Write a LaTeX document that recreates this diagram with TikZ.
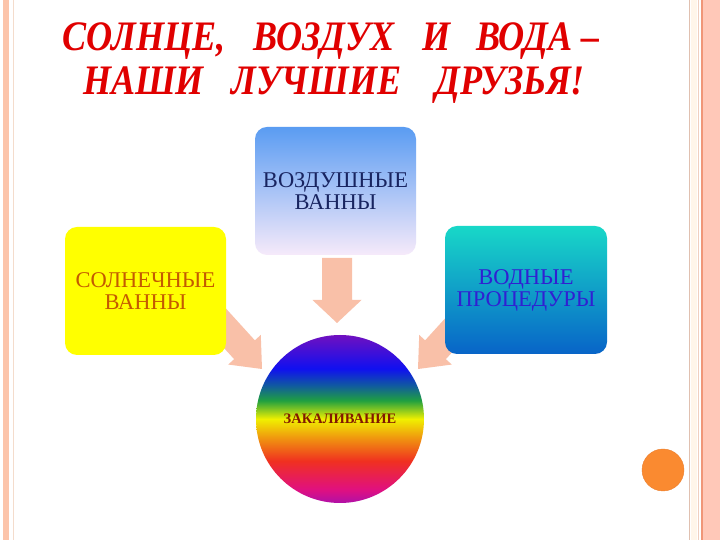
\documentclass[tikz,border=0pt]{standalone}
\usepackage{fontspec}
\setmainfont{Liberation Serif}
\newfontfamily\titlefont[FakeStretch=0.86]{Liberation Serif}
\usetikzlibrary{calc,shapes.geometric}
\definecolor{salmon}{HTML}{FCC4AA}
\definecolor{arrowc}{HTML}{F9C0A8}
\definecolor{titlered}{HTML}{E00000}
\definecolor{rbA}{HTML}{B010A8}
\definecolor{rbB}{HTML}{E01080}
\definecolor{rbC}{HTML}{F03020}
\definecolor{rbD}{HTML}{F09010}
\definecolor{rbE}{HTML}{F0F000}
\definecolor{rbF}{HTML}{20A040}
\definecolor{rbG}{HTML}{105AA0}
\definecolor{rbH}{HTML}{1010F0}
\definecolor{rbI}{HTML}{7010C0}
\pgfdeclareverticalshading{rainbow}{100bp}{color(0bp)=(rbA); color(25bp)=(rbA); color(29bp)=(rbB); color(37.5bp)=(rbC); color(44bp)=(rbD); color(50bp)=(rbE); color(55.5bp)=(rbF); color(60bp)=(rbG); color(65bp)=(rbH); color(75bp)=(rbI); color(100bp)=(rbI)}
\tikzset{
  boxnode/.style={rounded corners=12pt, minimum width=161pt, minimum height=128pt, inner sep=0pt, align=center, font=\fontsize{22.5}{22}\selectfont},
  titletext/.style={text=titlered, font=\titlefont\bfseries\itshape\fontsize{42}{44}\selectfont, inner sep=0pt, anchor=base},
}
\newcommand{\blockarrow}[5]{% tail, tip, shaft half, head half, head length
  \fill[arrowc] ($(#1)!#3!90:(#2)$) -- ($($(#2)!#5!(#1)$)!#3!-90:(#1)$) -- ($($(#2)!#5!(#1)$)!#4!-90:(#1)$) -- (#2) -- ($($(#2)!#5!(#1)$)!#4!90:(#1)$) -- ($($(#2)!#5!(#1)$)!#3!90:(#1)$) -- ($(#1)!#3!-90:(#2)$) -- cycle;}
\begin{document}
\begin{tikzpicture}[x=1pt,y=1pt]
\useasboundingbox (0,0) rectangle (720,540);
\fill[white] (0,0) rectangle (720,540);
% borders
\fill[salmon] (3,0) rectangle (9,540);
\draw[color={rgb,255:red,244;green,220;blue,204}, line width=1pt] (13.5,0) -- (13.5,540);
\draw[color={rgb,255:red,224;green,192;blue,176}, line width=1.5pt] (689.5,0) -- (689.5,540);
\fill[color={rgb,255:red,255;green,246;blue,234}] (691,0) rectangle (697,540);
\draw[color={rgb,255:red,240;green,208;blue,192}, line width=1pt] (698,0) -- (698,540);
\fill[color={rgb,255:red,255;green,200;blue,184}] (703,0) rectangle (720,540);
\draw[color={rgb,255:red,240;green,150;blue,120}, line width=1.5pt] (701.8,0) -- (701.8,540);
% title
\node[titletext] (t1) at (331,489) {СОЛНЦЕ,\hspace{0.45em} ВОЗДУХ\hspace{0.45em} И\hspace{0.4em} ВОДА –};
\node[titletext] (t2) at (334,445) {НАШИ\hspace{0.45em} ЛУЧШИЕ\hspace{0.6em} ДРУЗЬЯ!};
% arrow coordinates
\coordinate (dA) at (337,282);
\coordinate (dB) at (337,217);
\coordinate (lA) at (212,226);
\coordinate (lB) at (262,171);
\coordinate (rA) at (468,226);
\coordinate (rB) at (418,171);
\blockarrow{dA}{dB}{15pt}{24.5pt}{23pt}
\blockarrow{lA}{lB}{14pt}{22pt}{26pt}
\blockarrow{rA}{rB}{14pt}{22pt}{26pt}
% boxes
\node[boxnode, top color={rgb,255:red,90;green,156;blue,242}, bottom color={rgb,255:red,246;green,234;blue,250}, text={rgb,255:red,24;green,36;blue,96}] (air) at (335.5,349) {ВОЗДУШНЫЕ\\ВАННЫ};
\node[boxnode, fill={rgb,255:red,255;green,255;blue,0}, text={rgb,255:red,196;green,90;blue,0}] (sun) at (145.5,249) {СОЛНЕЧНЫЕ\\ВАННЫ};
\node[boxnode, minimum width=162pt, top color={rgb,255:red,24;green,216;blue,200}, middle color={rgb,255:red,16;green,168;blue,226}, bottom color={rgb,255:red,8;green,100;blue,200}, text={rgb,255:red,48;green,32;blue,210}] (water) at (526,250) {ВОДНЫЕ\\ПРОЦЕДУРЫ};
% circle
\node[circle, minimum size=168pt, inner sep=0pt, shade, shading=rainbow, text={rgb,255:red,130;green,24;blue,0}, font=\bfseries\fontsize{14.5}{16}\selectfont] (hard) at (340,121) {ЗАКАЛИВАНИЕ};
% orange dot
\node[circle, minimum size=42pt, inner sep=0pt, fill={rgb,255:red,250;green,138;blue,48}, draw={rgb,255:red,236;green,128;blue,48}] (dot) at (663,70) {};
\end{tikzpicture}
\end{document}
